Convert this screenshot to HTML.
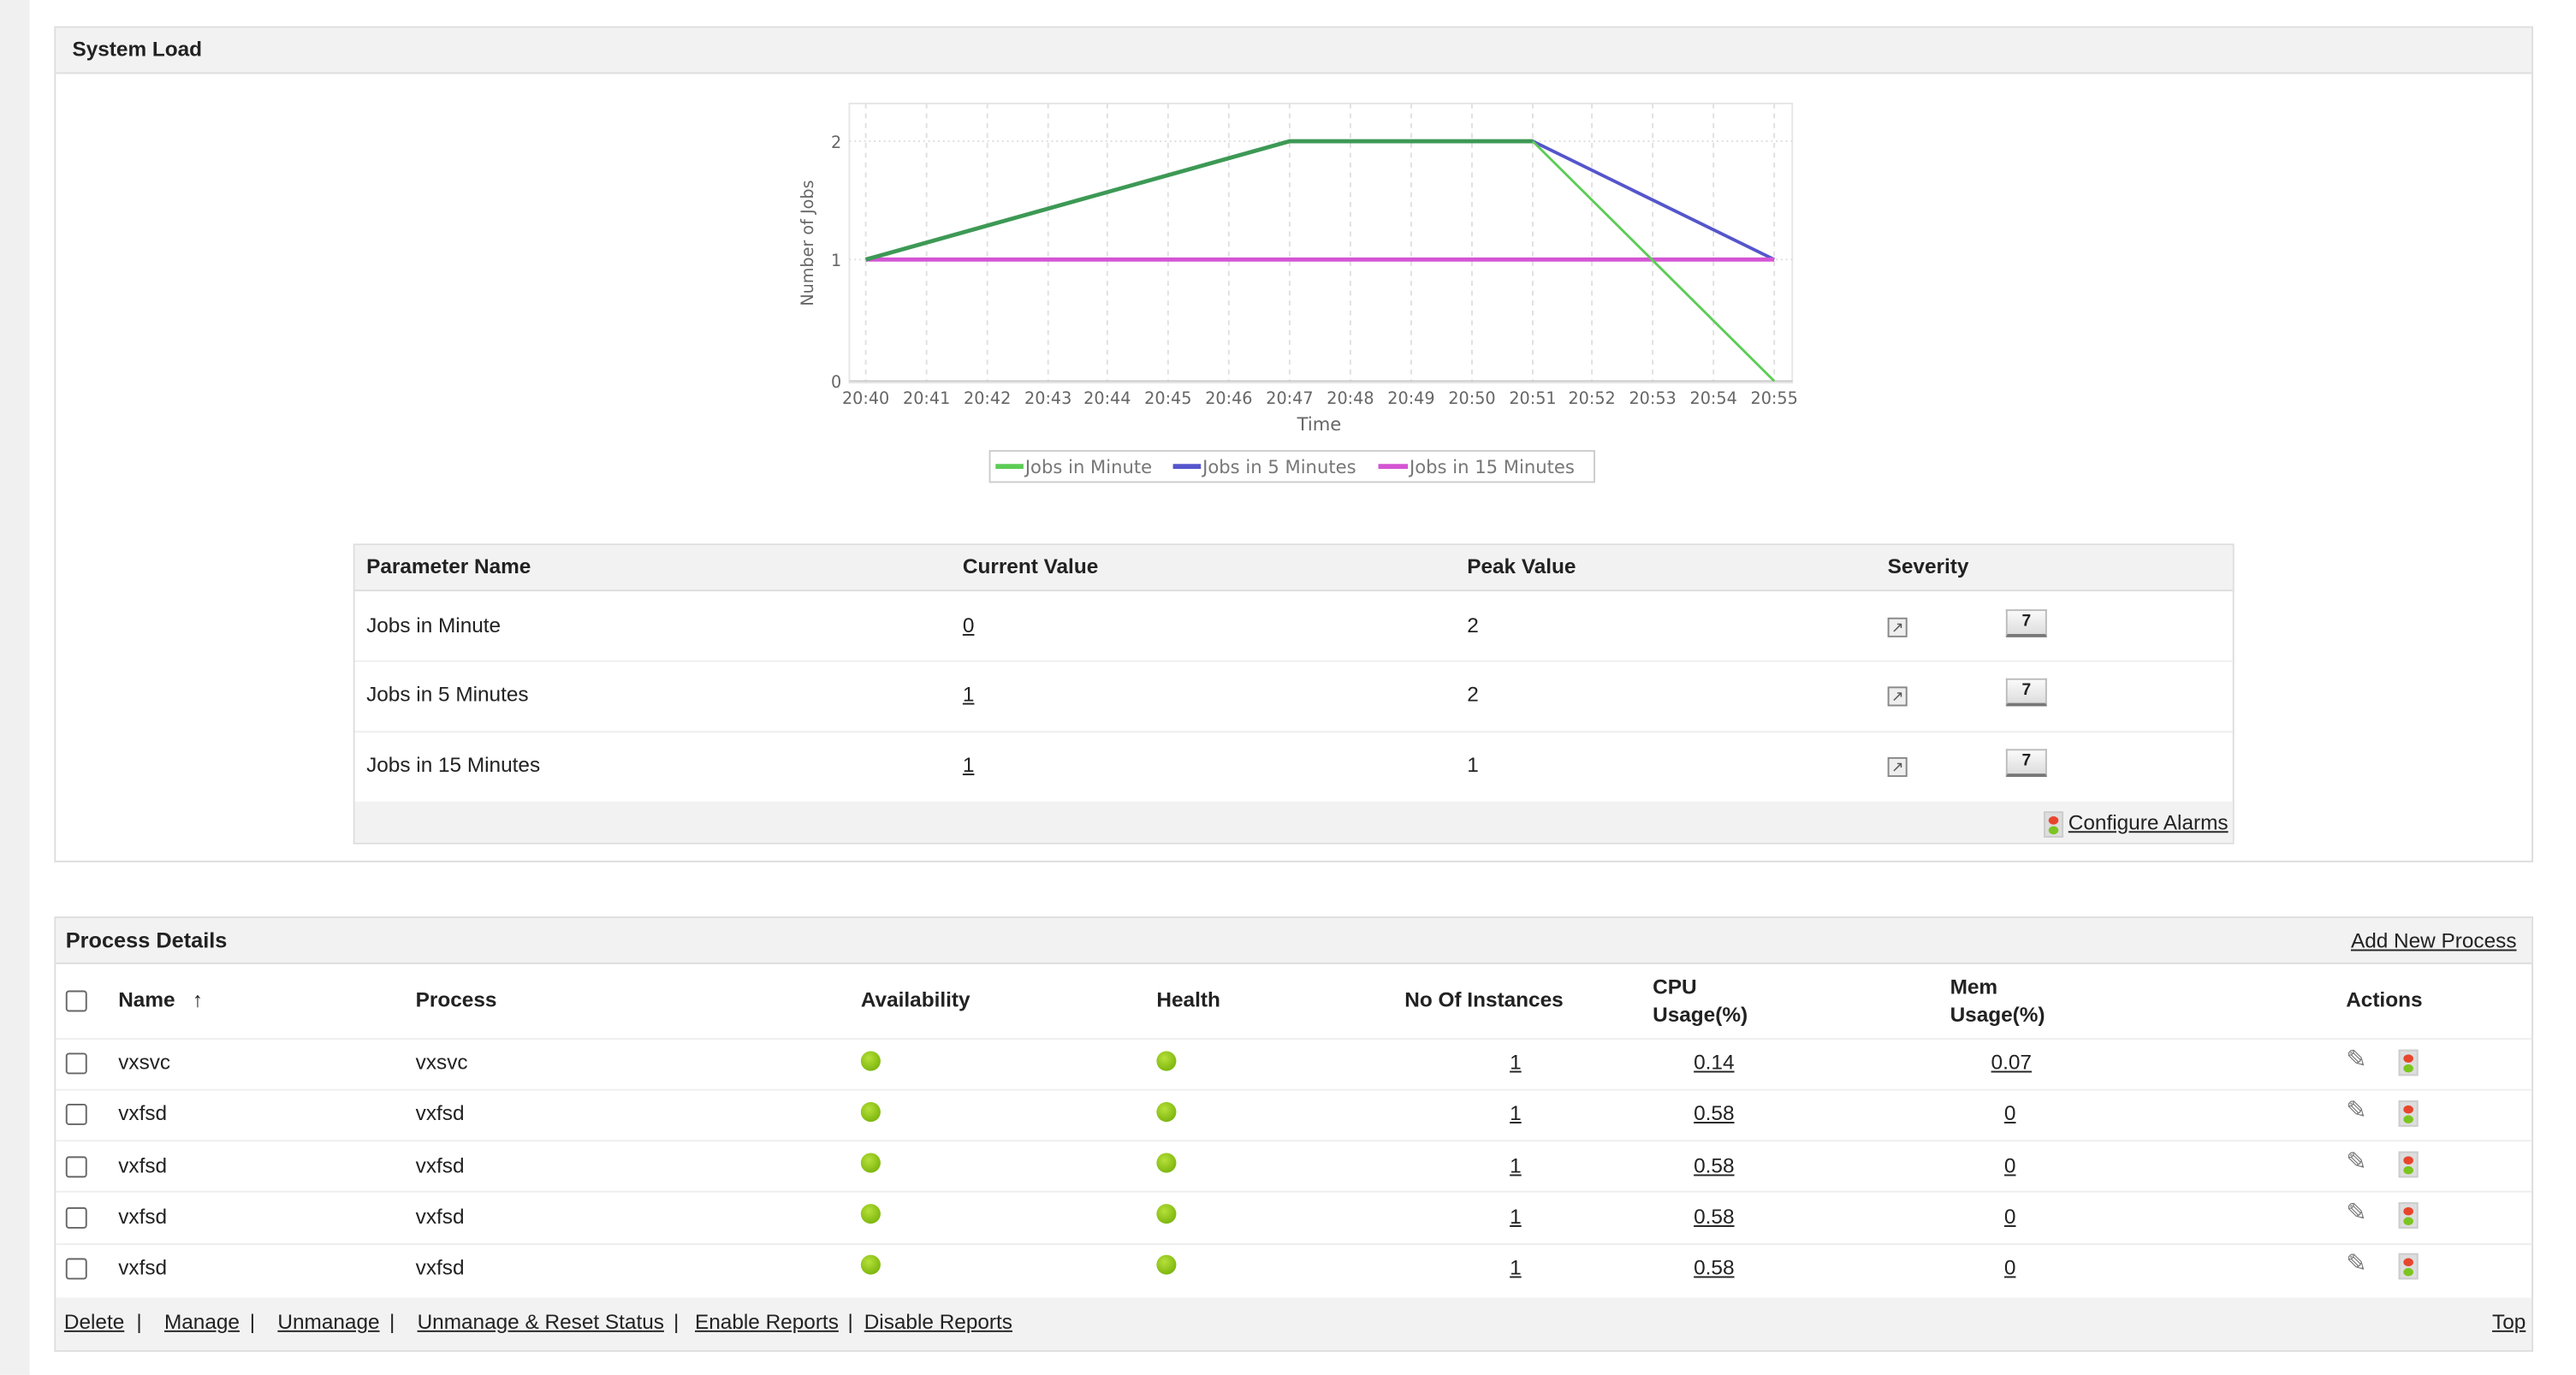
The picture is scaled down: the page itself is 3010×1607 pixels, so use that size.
<!DOCTYPE html>
<html><head><meta charset="utf-8"><style>
html,body{margin:0;padding:0;background:#fff;width:3010px;height:1607px;overflow:hidden}
#w{position:absolute;left:0;top:0;width:1568px;height:837px;transform:scale(1.9196);transform-origin:0 0;font-family:"Liberation Sans",sans-serif;font-size:12.7px;color:#222}
.a{position:absolute;white-space:nowrap}
.b{font-weight:bold}
.u{text-decoration:underline}
.panel{position:absolute;border:1px solid #ddd;background:#fff}
.hdr{position:absolute;background:#f2f2f2;border-bottom:1px solid #ddd}
.cb{position:absolute;width:11px;height:11px;border:1px solid #666;border-radius:2px;background:#fff}
.dot{position:absolute;width:12px;height:12px;border-radius:50%;background:radial-gradient(circle at 40% 35%,#b6e03a,#6aa800)}
.sep{position:absolute;height:1px;background:#eee}
.tl{position:absolute;width:10px;height:14px;background:#ddd;border:1px solid #ccc}
.tl:before{content:"";position:absolute;left:2px;top:2px;width:6px;height:5px;border-radius:50%;background:#e8452c}
.tl:after{content:"";position:absolute;left:2px;top:8px;width:6px;height:5px;border-radius:50%;background:#7cc520}
.ic{position:absolute;width:10px;height:10px;border:1px solid #888;background:#eee;font-size:9px;line-height:10px;text-align:center;color:#555}
.btn7{position:absolute;width:23px;height:14px;background:linear-gradient(#fafafa,#ddd);border:1px solid #bbb;border-bottom:2px solid #777;font-size:10px;font-weight:bold;text-align:center;line-height:14px}
</style></head><body><div id="w">
<div class="a" style="left:0;top:0;width:18px;height:837px;background:#f0f0f0"></div>

<div class="panel" style="left:33px;top:16px;width:1507px;height:507px">
 <div class="hdr" style="left:0;top:0;width:1507px;height:27px"></div>
 <div class="a b" style="left:10px;top:6px">System Load</div>
</div>

<svg class="a" style="left:0;top:0" width="1568" height="837" font-family="DejaVu Sans,sans-serif">
 <rect x="517" y="63" width="574" height="170" fill="#fff" stroke="#e6e6e6"/>
 <g stroke="#e0e0e0" stroke-dasharray="3,3">
  <line x1="527" y1="63" x2="527" y2="233"/><line x1="564" y1="63" x2="564" y2="233"/><line x1="601" y1="63" x2="601" y2="233"/><line x1="638" y1="63" x2="638" y2="233"/><line x1="674" y1="63" x2="674" y2="233"/><line x1="711" y1="63" x2="711" y2="233"/><line x1="748" y1="63" x2="748" y2="233"/><line x1="785" y1="63" x2="785" y2="233"/><line x1="822" y1="63" x2="822" y2="233"/><line x1="859" y1="63" x2="859" y2="233"/><line x1="896" y1="63" x2="896" y2="233"/><line x1="933" y1="63" x2="933" y2="233"/><line x1="969" y1="63" x2="969" y2="233"/><line x1="1006" y1="63" x2="1006" y2="233"/><line x1="1043" y1="63" x2="1043" y2="233"/><line x1="1080" y1="63" x2="1080" y2="233"/>
 </g>
 <g stroke="#ddd" stroke-dasharray="1,2"><line x1="517" y1="86" x2="1091" y2="86"/><line x1="517" y1="158" x2="1091" y2="158"/></g>
 <line x1="517" y1="232" x2="1091" y2="232" stroke="#ccc"/>
 <g fill="#666" font-size="10" text-anchor="middle">
  <text x="527" y="246">20:40</text><text x="564" y="246">20:41</text><text x="601" y="246">20:42</text><text x="638" y="246">20:43</text><text x="674" y="246">20:44</text><text x="711" y="246">20:45</text><text x="748" y="246">20:46</text><text x="785" y="246">20:47</text><text x="822" y="246">20:48</text><text x="859" y="246">20:49</text><text x="896" y="246">20:50</text><text x="933" y="246">20:51</text><text x="969" y="246">20:52</text><text x="1006" y="246">20:53</text><text x="1043" y="246">20:54</text><text x="1080" y="246">20:55</text>
  <text x="803" y="262" font-size="11">Time</text>
  <text x="509" y="90">2</text><text x="509" y="162">1</text><text x="509" y="236">0</text>
  <text transform="translate(495,148) rotate(-90)" font-size="10">Number of Jobs</text>
 </g>
 <polyline points="527,158 785,86 933,86 1080,158" fill="none" stroke="#5555cc" stroke-width="2"/>
 <line x1="527" y1="158" x2="1080" y2="158" stroke="#d455d4" stroke-width="2.5"/>
 <polyline points="527,158 785,86 933,86" fill="none" stroke="#3d9955" stroke-width="2.5"/>
 <line x1="933" y1="86" x2="1080" y2="232" stroke="#5ccc55" stroke-width="1.5"/>
 <rect x="602.5" y="274.5" width="368" height="19" fill="#fff" stroke="#ccc"/>
 <g font-size="11" fill="#777">
  <line x1="606" y1="284" x2="623" y2="284" stroke="#5ccc55" stroke-width="3"/><text x="624" y="288">Jobs in Minute</text>
  <line x1="714" y1="284" x2="731" y2="284" stroke="#5555cc" stroke-width="3"/><text x="732" y="288">Jobs in 5 Minutes</text>
  <line x1="839" y1="284" x2="857" y2="284" stroke="#d455d4" stroke-width="3"/><text x="858" y="288">Jobs in 15 Minutes</text>
 </g>
</svg>

<div class="panel" style="left:215px;top:331px;width:1143px;height:181px">
 <div class="hdr" style="left:0;top:0;width:1143px;height:27px"></div>
 <div class="a" style="left:0;top:156px;width:1143px;height:25px;background:#f2f2f2"></div>
 <div class="sep" style="left:0;top:70px;width:1143px"></div>
 <div class="sep" style="left:0;top:113px;width:1143px"></div>
</div>
<div class="a b" style="left:223px;top:338px">Parameter Name</div>
<div class="a b" style="left:586px;top:338px">Current Value</div>
<div class="a b" style="left:893px;top:338px">Peak Value</div>
<div class="a b" style="left:1149px;top:338px">Severity</div>
<div class="a" style="left:223px;top:374px">Jobs in Minute</div><div class="a u" style="left:586px;top:374px">0</div><div class="a" style="left:893px;top:374px">2</div>
<div class="a" style="left:223px;top:416px">Jobs in 5 Minutes</div><div class="a u" style="left:586px;top:416px">1</div><div class="a" style="left:893px;top:416px">2</div>
<div class="a" style="left:223px;top:459px">Jobs in 15 Minutes</div><div class="a u" style="left:586px;top:459px">1</div><div class="a" style="left:893px;top:459px">1</div>
<div class="ic" style="left:1149px;top:376px">↗</div><div class="btn7" style="left:1221px;top:371px">7</div>
<div class="ic" style="left:1149px;top:418px">↗</div><div class="btn7" style="left:1221px;top:413px">7</div>
<div class="ic" style="left:1149px;top:461px">↗</div><div class="btn7" style="left:1221px;top:456px">7</div>
<div class="tl" style="left:1244px;top:494px"></div>
<div class="a u" style="left:1259px;top:494px">Configure Alarms</div>

<div class="panel" style="left:33px;top:558px;width:1507px;height:263px">
 <div class="hdr" style="left:0;top:0;width:1507px;height:27px"></div>
 <div class="a" style="left:0;top:231px;width:1507px;height:32px;background:#f2f2f2"></div>
 <div class="sep" style="left:0;top:73px;width:1507px"></div>
 <div class="sep" style="left:0;top:104px;width:1507px"></div>
 <div class="sep" style="left:0;top:135px;width:1507px"></div>
 <div class="sep" style="left:0;top:166px;width:1507px"></div>
 <div class="sep" style="left:0;top:198px;width:1507px"></div>
</div>
<div class="a b" style="left:40px;top:565px;font-size:13.2px">Process Details</div>
<div class="a u" style="left:1431px;top:566px">Add New Process</div>
<div class="cb" style="left:40px;top:603px"></div>
<div class="a b" style="left:72px;top:602px">Name &nbsp; <span style="font-weight:normal">↑</span></div>
<div class="a b" style="left:253px;top:602px">Process</div>
<div class="a b" style="left:524px;top:602px">Availability</div>
<div class="a b" style="left:704px;top:602px">Health</div>
<div class="a b" style="left:855px;top:602px">No Of Instances</div>
<div class="a b" style="left:1006px;top:593px;line-height:17px">CPU<br>Usage(%)</div>
<div class="a b" style="left:1187px;top:593px;line-height:17px">Mem<br>Usage(%)</div>
<div class="a b" style="left:1428px;top:602px">Actions</div>

<div class="cb" style="left:40px;top:641px"></div><div class="a" style="left:72px;top:640px">vxsvc</div><div class="a" style="left:253px;top:640px">vxsvc</div><div class="dot" style="left:524px;top:640px"></div><div class="dot" style="left:704px;top:640px"></div><div class="a u" style="left:919px;top:640px">1</div><div class="a u" style="left:1031px;top:640px">0.14</div><div class="a u" style="left:1212px;top:640px">0.07</div><div class="a" style="left:1428px;top:636px;color:#777;font-size:15px">✎</div><div class="tl" style="left:1460px;top:639px"></div>
<div class="cb" style="left:40px;top:672px"></div><div class="a" style="left:72px;top:671px">vxfsd</div><div class="a" style="left:253px;top:671px">vxfsd</div><div class="dot" style="left:524px;top:671px"></div><div class="dot" style="left:704px;top:671px"></div><div class="a u" style="left:919px;top:671px">1</div><div class="a u" style="left:1031px;top:671px">0.58</div><div class="a u" style="left:1220px;top:671px">0</div><div class="a" style="left:1428px;top:667px;color:#777;font-size:15px">✎</div><div class="tl" style="left:1460px;top:670px"></div>
<div class="cb" style="left:40px;top:704px"></div><div class="a" style="left:72px;top:703px">vxfsd</div><div class="a" style="left:253px;top:703px">vxfsd</div><div class="dot" style="left:524px;top:702px"></div><div class="dot" style="left:704px;top:702px"></div><div class="a u" style="left:919px;top:703px">1</div><div class="a u" style="left:1031px;top:703px">0.58</div><div class="a u" style="left:1220px;top:703px">0</div><div class="a" style="left:1428px;top:698px;color:#777;font-size:15px">✎</div><div class="tl" style="left:1460px;top:701px"></div>
<div class="cb" style="left:40px;top:735px"></div><div class="a" style="left:72px;top:734px">vxfsd</div><div class="a" style="left:253px;top:734px">vxfsd</div><div class="dot" style="left:524px;top:733px"></div><div class="dot" style="left:704px;top:733px"></div><div class="a u" style="left:919px;top:734px">1</div><div class="a u" style="left:1031px;top:734px">0.58</div><div class="a u" style="left:1220px;top:734px">0</div><div class="a" style="left:1428px;top:729px;color:#777;font-size:15px">✎</div><div class="tl" style="left:1460px;top:732px"></div>
<div class="cb" style="left:40px;top:766px"></div><div class="a" style="left:72px;top:765px">vxfsd</div><div class="a" style="left:253px;top:765px">vxfsd</div><div class="dot" style="left:524px;top:764px"></div><div class="dot" style="left:704px;top:764px"></div><div class="a u" style="left:919px;top:765px">1</div><div class="a u" style="left:1031px;top:765px">0.58</div><div class="a u" style="left:1220px;top:765px">0</div><div class="a" style="left:1428px;top:760px;color:#777;font-size:15px">✎</div><div class="tl" style="left:1460px;top:763px"></div>

<div class="a u" style="left:39px;top:798px">Delete</div><div class="a" style="left:83px;top:798px">|</div>
<div class="a u" style="left:100px;top:798px">Manage</div><div class="a" style="left:152px;top:798px">|</div>
<div class="a u" style="left:169px;top:798px">Unmanage</div><div class="a" style="left:237px;top:798px">|</div>
<div class="a u" style="left:254px;top:798px">Unmanage &amp; Reset Status</div><div class="a" style="left:410px;top:798px">|</div>
<div class="a u" style="left:423px;top:798px">Enable Reports</div><div class="a" style="left:516px;top:798px">|</div>
<div class="a u" style="left:526px;top:798px">Disable Reports</div>
<div class="a u" style="left:1517px;top:798px">Top</div>
</div></body></html>
